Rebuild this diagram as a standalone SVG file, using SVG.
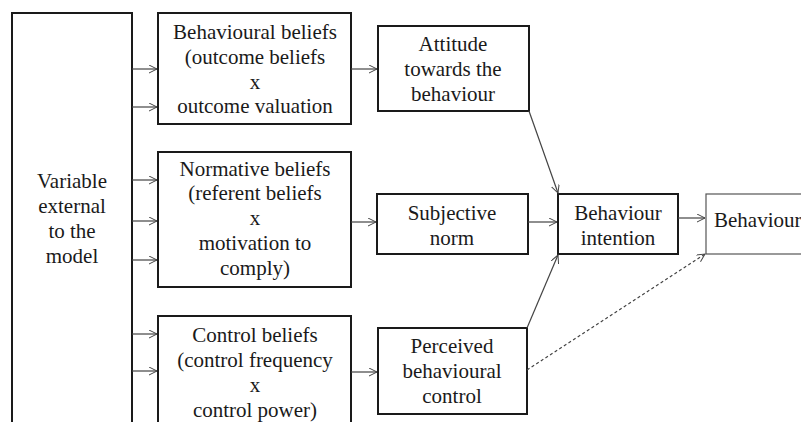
<svg xmlns="http://www.w3.org/2000/svg" width="801" height="422" viewBox="0 0 801 422">
<defs>
<marker id="arr" markerWidth="10" markerHeight="10" refX="8" refY="4" orient="auto" markerUnits="userSpaceOnUse">
<path d="M0,0 L8,4 L0,8" fill="none" stroke="#444" stroke-width="1"/>
</marker>
</defs>
<style>
.box{fill:#fff;stroke:#1a1a1a;stroke-width:2}
.box2{fill:#fff;stroke:#555;stroke-width:1.2}
.t{font-family:"Liberation Serif","Times New Roman",Tinos,"Noto Serif","DejaVu Serif",FreeSerif,"Nimbus Roman",Times,serif;font-size:21px;fill:#1a1a1a;text-anchor:middle}
.c{stroke:#444;stroke-width:1.2;fill:none;marker-end:url(#arr)}
.d{stroke:#444;stroke-width:1.2;fill:none;stroke-dasharray:3,2.5;marker-end:url(#arr)}
</style>
<rect width="801" height="422" fill="#fff"/>
<g id="external">
<rect class="box" x="12" y="13" width="120" height="420"/>
<text class="t" x="72" y="188">Variable</text>
<text class="t" x="72" y="213">external</text>
<text class="t" x="72" y="238">to the</text>
<text class="t" x="72" y="263">model</text>
</g>
<g id="behavioural-beliefs">
<rect class="box" x="158" y="13" width="193" height="111"/>
<text class="t" x="255" y="39">Behavioural beliefs</text>
<text class="t" x="255" y="64">(outcome beliefs</text>
<text class="t" x="255" y="89">x</text>
<text class="t" x="255" y="113">outcome valuation</text>
</g>
<g id="normative-beliefs">
<rect class="box" x="158" y="152" width="193" height="135"/>
<text class="t" x="255" y="176">Normative beliefs</text>
<text class="t" x="255" y="200">(referent beliefs</text>
<text class="t" x="255" y="225">x</text>
<text class="t" x="255" y="250">motivation to</text>
<text class="t" x="255" y="275">comply)</text>
</g>
<g id="control-beliefs">
<rect class="box" x="158" y="316" width="193" height="120"/>
<text class="t" x="255" y="342">Control beliefs</text>
<text class="t" x="255" y="367">(control frequency</text>
<text class="t" x="255" y="392">x</text>
<text class="t" x="255" y="417">control power)</text>
</g>
<g id="attitude">
<rect class="box" x="378" y="26" width="151" height="85"/>
<text class="t" x="453" y="51">Attitude</text>
<text class="t" x="453" y="76">towards the</text>
<text class="t" x="453" y="101">behaviour</text>
</g>
<g id="subjective-norm">
<rect class="box" x="377" y="194" width="151" height="60"/>
<text class="t" x="452" y="220">Subjective</text>
<text class="t" x="452" y="245">norm</text>
</g>
<g id="perceived-control">
<rect class="box" x="378" y="328" width="149" height="86"/>
<text class="t" x="452" y="353">Perceived</text>
<text class="t" x="452" y="378">behavioural</text>
<text class="t" x="452" y="403">control</text>
</g>
<g id="intention">
<rect class="box" x="558" y="194" width="120" height="60"/>
<text class="t" x="618" y="220">Behaviour</text>
<text class="t" x="618" y="245">intention</text>
</g>
<g id="behaviour">
<rect class="box2" x="706" y="194" width="110" height="60"/>
<text class="t" x="714" y="227" style="text-anchor:start">Behaviour</text>
</g>
<g id="connectors">
<path class="c" d="M132,69 H157"/>
<path class="c" d="M132,107 H157"/>
<path class="c" d="M132,180 H157"/>
<path class="c" d="M132,221 H157"/>
<path class="c" d="M132,260 H157"/>
<path class="c" d="M132,334 H157"/>
<path class="c" d="M132,371 H157"/>
<path class="c" d="M351,69 H377"/>
<path class="c" d="M351,222 H376"/>
<path class="c" d="M351,372 H377"/>
<path class="c" d="M528,222 H557"/>
<path class="c" d="M678,218 H705"/>
<path class="c" d="M529,111 L558,193"/>
<path class="c" d="M527,328 L558,255"/>
<path class="d" d="M527,370 L705,254"/>
</g>
</svg>
